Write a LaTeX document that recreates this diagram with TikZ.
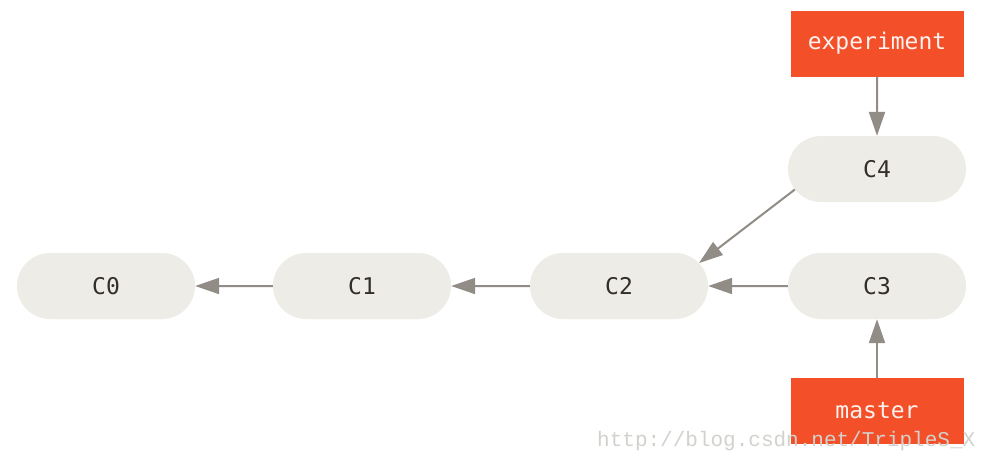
\documentclass[tikz,border=0pt]{standalone}
\usepackage{fontspec}
\setmonofont{DejaVu Sans Mono}
\newfontfamily\wmfont{Liberation Mono}
\usetikzlibrary{shapes.misc,arrows.meta}
\definecolor{commitfill}{RGB}{238,236,230}
\definecolor{branchfill}{RGB}{243,80,41}
\definecolor{arrowgray}{RGB}{145,140,133}
\definecolor{textdark}{RGB}{51,46,42}
\definecolor{wmgray}{RGB}{210,210,205}
\tikzset{
  commit/.style={rounded rectangle, fill=commitfill, minimum width=178pt, minimum height=66pt,
    inner sep=0pt, font=\ttfamily\fontsize{23}{26}\selectfont, text=textdark},
  branch/.style={rectangle, fill=branchfill, minimum width=173pt, minimum height=66pt,
    inner sep=0pt, font=\ttfamily\fontsize{23}{26}\selectfont, text=white!92!branchfill},
  link/.style={draw=arrowgray, line width=2pt, -{Triangle[length=24pt,width=16pt]}, fill=arrowgray}
}
\begin{document}
\begin{tikzpicture}[x=1pt,y=-1pt]
\useasboundingbox (0,0) rectangle (982,451);
\fill[white] (0,0) rectangle (982,451);
\node[commit] (C0) at (106,286) {C0};
\node[commit] (C1) at (362,286) {C1};
\node[commit] (C2) at (619,286) {C2};
\node[commit] (C3) at (877,286) {C3};
\node[commit] (C4) at (877,169) {C4};
\node[branch] (exp) at (877,43.5) {experiment};
\node[branch] (mas) at (877,411) {master};
\draw[link] (C1) -- (C0);
\draw[link] (C2) -- (C1);
\draw[link] (C3) -- (C2);
\draw[link] (C4.194) -- (C2.16.5);
\draw[link] (exp) -- (C4);
\draw[link] (mas) -- (C3);
\node[anchor=base west, inner sep=0pt, text=wmgray, font=\wmfont\fontsize{21}{24}\selectfont] (wm) at (597,446) {http://blog.csdn.net/TripleS\_X};
\end{tikzpicture}
\end{document}
